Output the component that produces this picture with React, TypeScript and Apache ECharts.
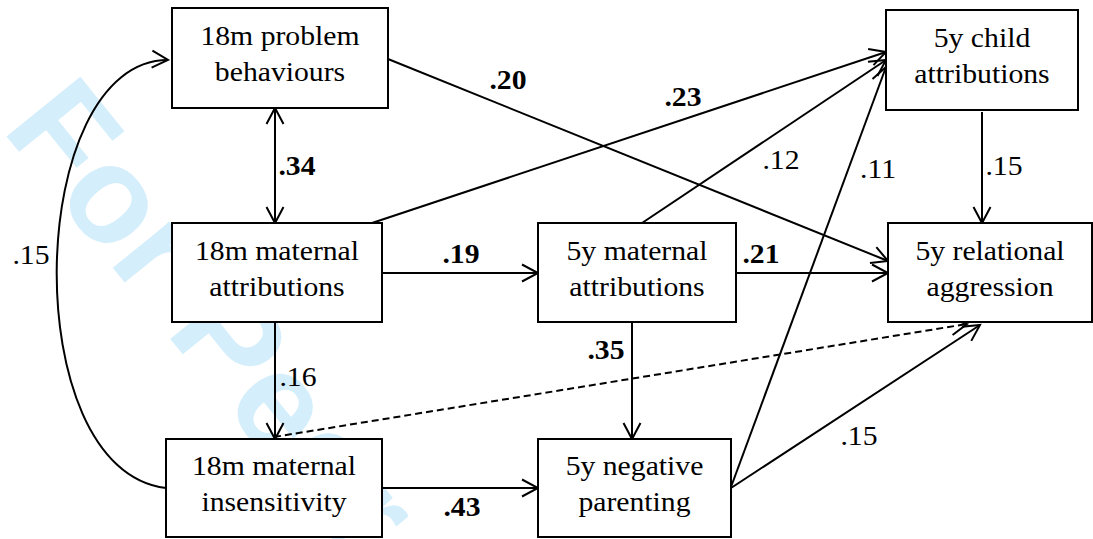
import React, { useEffect, useRef } from "react";
import * as echarts from "echarts";

// ---- Data ----
const nodeIds = ["pb18", "ma18", "ins18", "ca5", "ma5", "np5", "ra5"];
const nodeLine1 = ["18m problem", "18m maternal", "18m maternal", "5y child", "5y maternal", "5y negative", "5y relational"];
const nodeLine2 = ["behaviours", "attributions", "insensitivity", "attributions", "attributions", "parenting", "aggression"];

const pathFrom = ["pb18", "pb18", "ma18", "ma5", "np5", "ca5", "ma18", "ma5", "ma18", "ma5", "ins18", "np5", "ins18", "ins18"];
const pathTo = ["ma18", "ra5", "ca5", "ca5", "ca5", "ra5", "ma5", "ra5", "ins18", "np5", "np5", "ra5", "ra5", "pb18"];
const pathCoef = [".34", ".20", ".23", ".12", ".11", ".15", ".19", ".21", ".16", ".35", ".43", ".15", "", ".15"];
const pathSignificant = [true, true, true, false, false, false, true, true, false, true, true, false, false, false];
const pathKind = ["double", "single", "single", "single", "single", "single", "single", "single", "single", "single", "single", "single", "dashed", "curve"];

const watermarkText = "For Peer Review";

// ---- Layout (pixel geometry, kept apart from data) ----
const boxLayout: Record<string, [number, number, number, number]> = {
  pb18: [172, 8, 216, 100],
  ma18: [172, 223, 210, 99],
  ins18: [166, 439, 216, 98],
  ca5: [886, 10, 192, 100],
  ma5: [538, 223, 198, 99],
  np5: [538, 439, 193, 98],
  ra5: [888, 223, 204, 99],
};

// start point, end point, label position for each path
const pathLayout: Array<{ s: [number, number]; e: [number, number]; lab: [number, number]; c1?: [number, number]; c2?: [number, number] }> = [
  { s: [275, 108], e: [275, 223], lab: [297, 166] },
  { s: [388, 59], e: [888, 261], lab: [508, 80] },
  { s: [372, 223], e: [886, 52], lab: [683, 97] },
  { s: [642, 223], e: [886, 60], lab: [781, 160] },
  { s: [731, 487], e: [886, 67], lab: [878, 169] },
  { s: [982, 112], e: [982, 223], lab: [1004, 166] },
  { s: [382, 273], e: [538, 273], lab: [461, 254] },
  { s: [736, 273], e: [888, 273], lab: [761, 254] },
  { s: [275, 322], e: [275, 439], lab: [298, 377] },
  { s: [632, 322], e: [632, 439], lab: [606, 350] },
  { s: [382, 488], e: [538, 488], lab: [462, 507] },
  { s: [731, 488], e: [980, 325], lab: [859, 436] },
  { s: [274, 437], e: [967, 324], lab: [0, 0] },
  { s: [166, 488], e: [168, 60], lab: [31, 255], c1: [15, 470], c2: [25, 60] },
];

const FONT = '"Liberation Serif", "Times New Roman", serif';
const FS = 27;
const SX = 1.1;
const HEAD_L = 16;
const HEAD_W = 8.5;

function chevron(tx: number, ty: number, dx: number, dy: number) {
  const l = Math.hypot(dx, dy);
  const ux = dx / l, uy = dy / l;
  const px = -uy, py = ux;
  return {
    type: "polyline",
    silent: true,
    shape: {
      points: [
        [tx - HEAD_L * ux + HEAD_W * px, ty - HEAD_L * uy + HEAD_W * py],
        [tx, ty],
        [tx - HEAD_L * ux - HEAD_W * px, ty - HEAD_L * uy - HEAD_W * py],
      ],
    },
    style: { stroke: "#000", lineWidth: 2, fill: "none" },
    z: 20,
  };
}

function buildElements() {
  const els: any[] = [];
  // watermark
  els.push({
    type: "text",
    x: 38,
    y: 99,
    rotation: (-51 * Math.PI) / 180,
    silent: true,
    z: 1,
    style: {
      text: watermarkText,
      fontSize: 138,
      fontWeight: "bold",
      fontFamily: '"Liberation Sans", Arial, sans-serif',
      fill: "#d4eefb",
      align: "left",
      verticalAlign: "middle",
      textAlign: "left",
      textVerticalAlign: "middle",
    },
  });

  // paths
  pathFrom.forEach((from, i) => {
    const g = pathLayout[i];
    const kind = pathKind[i];
    if (kind === "curve") {
      els.push({
        type: "bezierCurve",
        silent: true,
        z: 20,
        shape: {
          x1: g.s[0], y1: g.s[1], x2: g.e[0], y2: g.e[1],
          cpx1: g.c1![0], cpy1: g.c1![1], cpx2: g.c2![0], cpy2: g.c2![1],
        },
        style: { stroke: "#000", lineWidth: 2, fill: "none" },
      });
      els.push(chevron(g.e[0], g.e[1], 1, 0.05));
    } else {
      els.push({
        type: "line",
        silent: true,
        z: 20,
        shape: { x1: g.s[0], y1: g.s[1], x2: g.e[0], y2: g.e[1] },
        style: {
          stroke: "#000",
          lineWidth: 2,
          lineDash: kind === "dashed" ? [7, 4] : null,
        },
      });
      const dx = g.e[0] - g.s[0], dy = g.e[1] - g.s[1];
      els.push(chevron(g.e[0], g.e[1], dx, dy));
      if (kind === "double") els.push(chevron(g.s[0], g.s[1], -dx, -dy));
    }
    if (pathCoef[i]) {
      els.push({
        type: "text",
        x: g.lab[0],
        y: g.lab[1],
        scaleX: SX,
        silent: true,
        z: 40,
        style: {
          text: pathCoef[i],
          fontSize: FS,
          fontWeight: pathSignificant[i] ? "bold" : "normal",
          fontFamily: FONT,
          fill: "#000",
          align: "center",
          verticalAlign: "middle",
          textAlign: "center",
          textVerticalAlign: "middle",
        },
      });
    }
  });

  // boxes
  nodeIds.forEach((id, i) => {
    const [x, y, w, h] = boxLayout[id];
    els.push({
      type: "rect",
      silent: true,
      z: 30,
      shape: { x, y, width: w, height: h },
      style: { fill: "#fff", stroke: "#000", lineWidth: 2 },
    });
    const cx = x + w / 2, cy = y + h / 2;
    [nodeLine1[i], nodeLine2[i]].forEach((t, k) => {
      els.push({
        type: "text",
        x: cx,
        y: cy + (k === 0 ? -22 : 14),
        scaleX: SX,
        silent: true,
        z: 40,
        style: {
          text: t,
          fontSize: FS,
          fontFamily: FONT,
          fill: "#000",
          align: "center",
          verticalAlign: "middle",
          textAlign: "center",
          textVerticalAlign: "middle",
        },
      });
    });
  });
  return els;
}

export default function App() {
  const ref = useRef<HTMLDivElement>(null);
  useEffect(() => {
    document.body.style.margin = "0";
    const chart = echarts.init(ref.current!, undefined, { renderer: "svg" });
    chart.setOption({
      animation: false,
      backgroundColor: "#fff",
      graphic: { elements: buildElements() },
    });
    return () => chart.dispose();
  }, []);
  return <div ref={ref} style={{ width: 1093, height: 539 }} />;
}
